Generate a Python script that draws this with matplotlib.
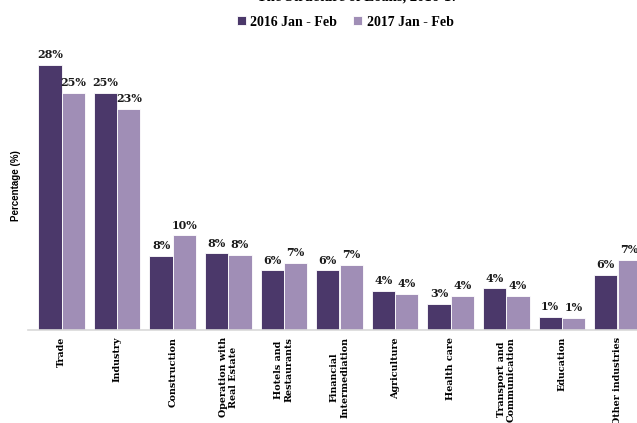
import numpy as np
import matplotlib
matplotlib.use("Agg")
import matplotlib.pyplot as plt

# Loan structure by industry, share of total (%)
categories = ["Trade", "Industry", "Construction", "Operation with\nReal Estate",
              "Hotels and\nRestaurants", "Financial\nIntermediation", "Agriculture",
              "Health care", "Transport and\nCommunication", "Education", "Other industries"]
share_2016 = [28.0, 25.1, 7.8, 8.1, 6.3, 6.3, 4.1, 2.8, 4.4, 1.4, 5.8]
share_2017 = [25.1, 23.4, 10.0, 7.9, 7.1, 6.9, 3.8, 3.6, 3.6, 1.3, 7.4]
series_names = ["2016 Jan - Feb", "2017 Jan - Feb"]

dark = "#4B386A"
light = "#A08EB6"
font = "DejaVu Serif"
font2 = "Liberation Serif"

fig = plt.figure(figsize=(6.37, 4.23), dpi=100)
W, H = 637, 423
# axes extends beyond the right edge, the original picture is cropped there
ax = fig.add_axes([33.7 / W, 93 / H, 611.6 / W, 283.8 / H])

x = np.arange(len(categories))
bw = 0.42
b1 = ax.bar(x - bw / 2, share_2016, bw, color=dark, edgecolor="white", linewidth=0.6)
b2 = ax.bar(x + bw / 2, share_2017, bw, color=light, edgecolor="white", linewidth=0.6)

for bars in (b1, b2):
    for r in bars:
        ax.annotate(f"{r.get_height():.0f}%", (r.get_x() + r.get_width() / 2, r.get_height()),
                    xytext=(0, 3.5), textcoords="offset points", ha="center", va="bottom",
                    fontsize=8, fontweight="bold", family=font, color="#1a1a1a")

ax.set_xlim(-0.5, 10.5)
ax.set_ylim(0, 30)
ax.set_yticks([])
ax.set_xticks(x)
ax.set_xticklabels(categories, rotation=90, fontsize=6.9, fontweight="bold", family=font,
                   ma="center", va="top", ha="center")
ax.tick_params(axis="x", length=0, pad=5)
for s in ["top", "right", "left"]:
    ax.spines[s].set_visible(False)
ax.spines["bottom"].set_color("#D9D9D9")
ax.spines["bottom"].set_linewidth(1.2)
ax.spines["bottom"].set_bounds(-0.6, 10.5)

fig.text(16 / W, 1 - 186 / H, "Percentage (%)", rotation=90, ha="center", va="center",
         fontsize=7, fontweight="bold", family="Liberation Sans")

# title, mostly cut off at the top in the original
fig.text(358 / W, 1 - 4 / H, "The Structure of Loans, 2016-17", ha="center", va="bottom",
         fontsize=10.5, fontweight="bold", family=font2)

fig.legend([b1, b2], series_names, loc="center", bbox_to_anchor=(345 / W, 1 - 22 / H),
           ncol=2, frameon=False, prop={"family": font2, "weight": "bold", "size": 10},
           handlelength=0.65, handleheight=0.65, handletextpad=0.35, columnspacing=1.1)

fig.savefig("out.png", dpi=100)
